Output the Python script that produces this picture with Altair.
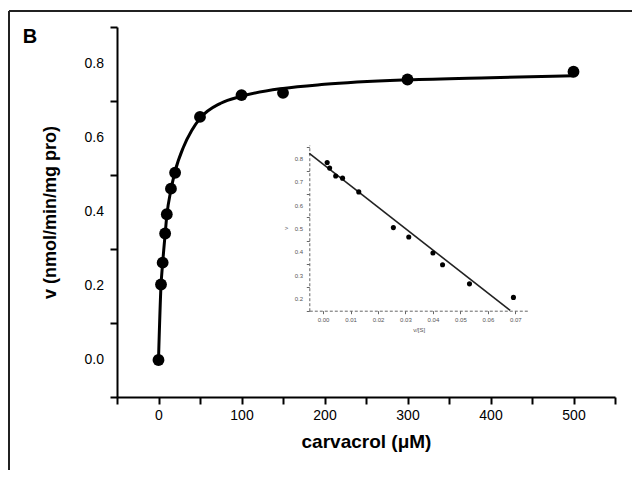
import altair as alt
import pandas as pd

# ---- main Michaelis-Menten data ----
conc = [0, 3, 5, 8, 10, 15, 20, 50, 100, 150, 300, 500]
rate = [0.0, 0.204, 0.263, 0.342, 0.394, 0.463, 0.506, 0.657, 0.716, 0.722, 0.758, 0.779]

# fitted curve, points
curve_conc = [0, 3, 5, 8, 10, 15, 20, 30, 40, 50, 75, 100, 150, 200, 300, 400, 500]
curve_rate = [0.0, 0.2, 0.262, 0.34, 0.39, 0.46, 0.51, 0.575, 0.62, 0.653, 0.694, 0.713,
              0.734, 0.745, 0.757, 0.763, 0.768]

# ---- inset Eadie-Hofstee data ----
inset_vs = [0.0015, 0.0024, 0.0046, 0.0071, 0.0130, 0.0256, 0.0312, 0.0400, 0.0435, 0.0533, 0.0693]
inset_v = [0.785, 0.761, 0.727, 0.718, 0.659, 0.506, 0.466, 0.397, 0.347, 0.265, 0.207]
inset_line_vs = [-0.005, 0.0681]
inset_line_v = [0.824, 0.151]

# axis ticks / labels
x_ticks = [-50, 0, 50, 100, 150, 200, 250, 300, 350, 400, 450, 500, 550]
y_ticks = [-0.1, 0.0, 0.1, 0.2, 0.3, 0.4, 0.5, 0.6, 0.7, 0.8, 0.9]
y_label_vals = [0.0, 0.2, 0.4, 0.6, 0.8]
y_label_txt = ["0.0", "0.2", "0.4", "0.6", "0.8"]
ix_ticks = [0.0, 0.005, 0.01, 0.015, 0.02, 0.025, 0.03, 0.035, 0.04, 0.045, 0.05,
            0.055, 0.06, 0.065, 0.07]
ix_labels = ["0.00", "0.01", "0.02", "0.03", "0.04", "0.05", "0.06", "0.07"]
iy_ticks = [0.15, 0.2, 0.25, 0.3, 0.35, 0.4, 0.45, 0.5, 0.55, 0.6, 0.65, 0.7, 0.75, 0.8, 0.85]
iy_label_vals = [0.2, 0.3, 0.4, 0.5, 0.6, 0.7, 0.8]
iy_label_txt = ["0.2", "0.3", "0.4", "0.5", "0.6", "0.7", "0.8"]

panel_label = "B"
x_title = "carvacrol (\u03bcM)"
y_title = "v (nmol/min/mg pro)"
ix_title = "v/[S]"
iy_title = "v"

pts = pd.DataFrame({"S": conc, "v": rate})
crv = pd.DataFrame({"S": curve_conc, "v": curve_rate})
ipts = pd.DataFrame({"vs": inset_vs, "v": inset_v})
iline = pd.DataFrame({"vs": inset_line_vs, "v": inset_line_v})
ylab = pd.DataFrame({"v": y_label_vals, "t": y_label_txt})
iylab = pd.DataFrame({"v": iy_label_vals, "t": iy_label_txt})

xs = alt.Scale(domain=[-50, 550], nice=False, zero=False)
ys = alt.Scale(domain=[-0.1, 0.9], nice=False, zero=False)

main_x_axis = alt.Axis(
    values=x_ticks, grid=False, title=x_title,
    labelExpr="(datum.value % 100 == 0 && datum.value >= 0 && datum.value <= 500) ? datum.label : ''",
    labelFontSize=14, titleFontSize=19, titleFontWeight="bold",
    tickSize=7, tickWidth=2, domainWidth=2, domainColor="black", tickColor="black",
    labelColor="black", titleColor="black", labelPadding=4, titlePadding=10,
    labelFlush=False, labelOverlap=False,
)
main_y_axis = alt.Axis(
    values=y_ticks, grid=False, title=y_title, labels=False,
    titleFontSize=18, titleFontWeight="bold",
    tickSize=7, tickWidth=2, domainWidth=2, domainColor="black", tickColor="black",
    titleColor="black", titlePadding=50,
)

curve = alt.Chart(crv).mark_line(color="black", strokeWidth=3, interpolate="monotone").encode(
    x=alt.X("S:Q", scale=xs, axis=main_x_axis),
    y=alt.Y("v:Q", scale=ys, axis=main_y_axis),
)
points = alt.Chart(pts).mark_circle(color="black", opacity=1, size=140).encode(
    x=alt.X("S:Q", scale=xs),
    y=alt.Y("v:Q", scale=ys),
)
ylabels = alt.Chart(ylab).mark_text(
    fontSize=14, align="right", baseline="middle", color="black"
).encode(x=alt.value(-13), y=alt.Y("v:Q", scale=ys), text="t:N")
main = alt.layer(curve, points, ylabels)

ixs = alt.Scale(domain=[-0.005, 0.0746], range=[192.3, 411], nice=False, zero=False)
iys = alt.Scale(domain=[0.15, 0.86], range=[283.7, 118], nice=False, zero=False)

inset_x_axis = alt.Axis(
    orient="bottom", offset=-86.3, values=ix_ticks, grid=False, title=ix_title, format=".3f",
    labelExpr="indexof(" + "[" + ",".join("'" + s + "0'" for s in ix_labels) + "]" + ", datum.label) >= 0 ? substring(datum.label, 0, 4) : ''",
    labelFontSize=6, titleFontSize=6, titleFontWeight="normal",
    tickSize=3, tickWidth=1, domainWidth=1, domainColor="#666", tickColor="#666",
    domainDash=[3, 2], labelColor="#555", titleColor="#555", labelPadding=3, titlePadding=4,
    labelFlush=False, labelOverlap=False,
)
inset_y_axis = alt.Axis(
    orient="left", offset=-192.3, values=iy_ticks, grid=False, title=iy_title, labels=False,
    titleFontSize=6, titleFontWeight="normal",
    tickSize=3, tickWidth=1, domainWidth=1, domainColor="#666", tickColor="#666",
    domainDash=[3, 2], titleColor="#555", titlePadding=17,
)

inset_line = alt.Chart(iline).mark_line(color="#222", strokeWidth=1.6).encode(
    x=alt.X("vs:Q", scale=ixs, axis=inset_x_axis),
    y=alt.Y("v:Q", scale=iys, axis=inset_y_axis),
)
inset_points = alt.Chart(ipts).mark_circle(color="black", opacity=1, size=26).encode(
    x=alt.X("vs:Q", scale=ixs),
    y=alt.Y("v:Q", scale=iys),
)
iylabels = alt.Chart(iylab).mark_text(
    fontSize=6, align="right", baseline="middle", color="#555"
).encode(x=alt.value(186), y=alt.Y("v:Q", scale=iys), text="t:N")
inset = alt.layer(inset_line, inset_points, iylabels)

frame_top = alt.Chart(pts).mark_rule(color="#222", strokeWidth=1.5).encode(
    x=alt.value(-108), x2=alt.value(530), y=alt.value(-16)
)
frame_left = alt.Chart(pts).mark_rule(color="#222", strokeWidth=1.5).encode(
    x=alt.value(-108), y=alt.value(-16), y2=alt.value(470)
)
label_b = alt.Chart(pd.DataFrame({"t": [panel_label]})).mark_text(
    fontSize=20, fontWeight="bold", align="center", baseline="middle", color="black"
).encode(x=alt.value(-87), y=alt.value(10), text="t:N")

chart = alt.layer(main, inset, frame_top, frame_left, label_b).resolve_scale(
    x="independent", y="independent"
).properties(
    width=498, height=370,
    autosize=alt.AutoSizeParams(type="none"),
    padding={"left": 109, "top": 19, "right": 17, "bottom": 73},
).configure(font="Liberation Sans").configure_view(stroke=None)

chart.save("out.html", embed_options={"renderer": "svg", "actions": False})
